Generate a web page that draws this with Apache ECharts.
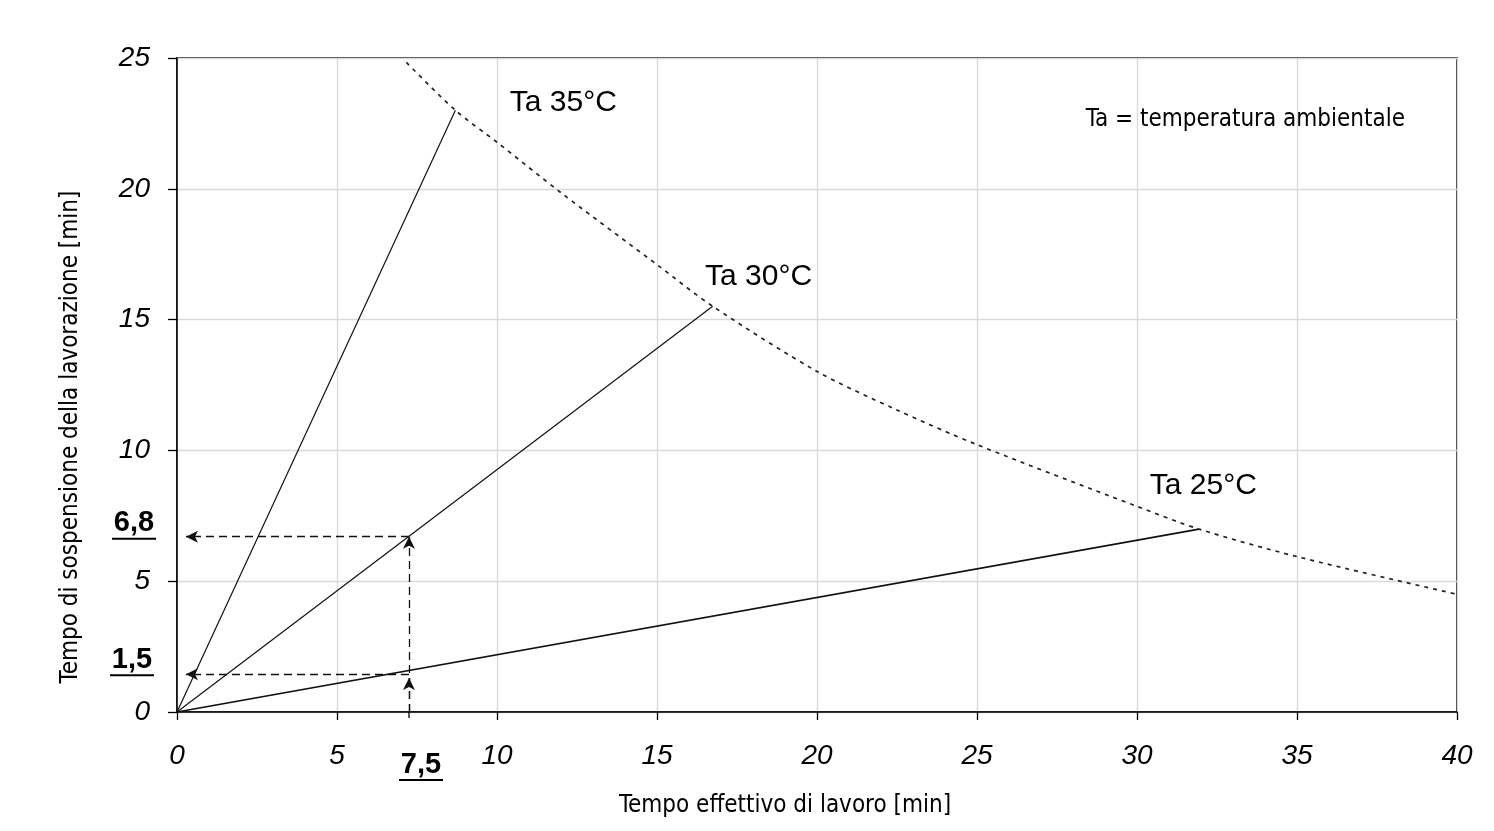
<!DOCTYPE html>
<html>
<head>
<meta charset="utf-8">
<script src="https://cdn.jsdelivr.net/npm/echarts@6/dist/echarts.min.js"></script>
<style>html,body{margin:0;padding:0;background:#fff}#c{width:1494px;height:831px}</style>
</head>
<body>
<div id="c"></div>
<script>
// ---- data ----
const xMin = 0, xMax = 40, xStep = 5;
const yMin = 0, yMax = 25, yStep = 5;
const xTitle = 'Tempo effettivo di lavoro [min]';
const yTitle = 'Tempo di sospensione della lavorazione [min]';
const ta35 = [[0, 0], [8.7, 23.0]];
const ta30 = [[0, 0], [16.74, 15.51]];
const ta25 = [[0, 0], [31.94, 6.99]];
const limitCurve = [[7.17, 24.83], [8.7, 23.0], [10, 21.78], [12, 19.85], [15, 17.1], [16.74, 15.51],
  [20, 13.02], [22.47, 11.56], [25, 10.22], [30, 7.86], [31.94, 6.99], [35, 5.94], [40, 4.5]];
const lineNames = ['Ta 35°C', 'Ta 30°C', 'Ta 25°C'];
const lineLabelPos = [[10.4, 23.3], [16.5, 16.65], [30.4, 8.65]];
const noteText = 'Ta = temperatura ambientale';
const notePos = [28.4, 22.65];
const readX = 7.25;          // position of reading line on x
const readY30 = 6.7;         // reading on Ta 30°C
const readY25 = 1.44;        // reading on Ta 25°C
const arrowTipX = 0.28;      // left arrow tips
const lowArrowTipY = 1.3;    // upward arrow tip on lower reading
const readLabels = ['7,5', '6,8', '1,5'];

const narrowFont = '"DejaVu Sans Condensed", "Liberation Sans", sans-serif';
const chart = echarts.init(document.getElementById('c'));
const solid = {color: '#111', width: 1.2, type: 'solid'};
const dashArrow = {color: '#111', width: 1.3, type: [8, 5]};

const option = {
  backgroundColor: '#fff',
  animation: false,
  grid: {left: 177, right: 37, top: 58, bottom: 119, show: true, borderColor: '#000', borderWidth: 1.5},
  xAxis: {
    type: 'value', min: xMin, max: xMax, interval: xStep,
    name: xTitle, nameLocation: 'middle', nameGap: 82,
    nameTextStyle: {fontFamily: narrowFont, fontSize: 24, color: '#000', padding: [0, 64, 0, 0]},
    axisLine: {lineStyle: {color: '#000', width: 1.5}},
    axisTick: {length: 8, lineStyle: {color: '#000', width: 1.3}},
    axisLabel: {fontFamily: 'Liberation Sans', fontStyle: 'italic', fontSize: 28, color: '#000', margin: 30},
    splitLine: {lineStyle: {color: '#d9d9d9', width: 1.3}}
  },
  yAxis: {
    type: 'value', min: yMin, max: yMax, interval: yStep,
    name: yTitle, nameLocation: 'middle', nameGap: 94, nameRotate: 90,
    nameTextStyle: {fontFamily: narrowFont, fontSize: 24, color: '#000', padding: [0, 104, 0, 0]},
    axisLine: {lineStyle: {color: '#000', width: 1.5}},
    axisTick: {length: 9, lineStyle: {color: '#000', width: 1.3}},
    axisLabel: {fontFamily: 'Liberation Sans', fontStyle: 'italic', fontSize: 28, color: '#000', margin: 27},
    splitLine: {lineStyle: {color: '#d9d9d9', width: 1.3}}
  },
  series: [
    {type: 'line', data: ta35, showSymbol: false, lineStyle: solid, silent: true},
    {type: 'line', data: ta30, showSymbol: false, lineStyle: solid, silent: true},
    {type: 'line', data: ta25, showSymbol: false, lineStyle: {color: '#111', width: 1.6}, silent: true},
    {type: 'line', data: limitCurve, showSymbol: false, smooth: 0.3,
     lineStyle: {color: '#222', width: 1.7, type: [4, 5]}, silent: true},
    {
      type: 'line', data: [], silent: true,
      markLine: {
        silent: true, symbol: ['none', 'arrow'], symbolSize: [9, 12],
        label: {show: false}, lineStyle: dashArrow,
        data: [
          [{coord: [readX, 0]}, {coord: [readX, readY30]}],
          [{coord: [readX, 0]}, {coord: [readX, lowArrowTipY]}],
          [{coord: [readX, readY30]}, {coord: [arrowTipX, readY30]}],
          [{coord: [readX, readY25]}, {coord: [arrowTipX, readY25]}]
        ]
      }
    },
    {
      type: 'scatter', symbolSize: 0, silent: true, itemStyle: {opacity: 1},
      data: lineNames.map((n, i) => ({name: n, value: lineLabelPos[i]})),
      label: {show: true, position: 'right', distance: 0, formatter: '{b}',
        fontFamily: 'Liberation Sans', fontSize: 30, color: '#000', opacity: 1}
    },
    {
      type: 'scatter', symbolSize: 0, silent: true, itemStyle: {opacity: 1},
      data: [{name: noteText, value: notePos}],
      label: {show: true, position: 'right', distance: 0, formatter: '{b}',
        fontFamily: narrowFont, fontSize: 24, color: '#000', opacity: 1}
    }
  ]
};
chart.setOption(option);

// bold underlined reading labels placed via the library's coordinate conversion
function addReadLabels() {
  const pX = chart.convertToPixel({gridIndex: 0}, [readX, 0]);
  const p68 = chart.convertToPixel({gridIndex: 0}, [0, readY30]);
  const p15 = chart.convertToPixel({gridIndex: 0}, [0, readY25]);
  const font = 'bold 29px "Liberation Sans"';
  const elems = [];
  function lbl(text, cx, baseY) {
    elems.push({type: 'text', x: cx, y: baseY, style: {text: text, font: font, fill: '#000',
      align: 'center', verticalAlign: 'bottom'}, silent: true});
    elems.push({type: 'line', shape: {x1: cx - 22, y1: baseY + 1, x2: cx + 22, y2: baseY + 1},
      style: {stroke: '#000', lineWidth: 2}, silent: true});
  }
  lbl(readLabels[0], pX[0] + 12, pX[1] + 67);
  lbl(readLabels[1], p68[0] - 43, p68[1] + 1);
  lbl(readLabels[2], p15[0] - 45, p15[1] - 0);
  // small tick below x axis at reading position
  elems.push({type: 'line', shape: {x1: pX[0], y1: pX[1], x2: pX[0], y2: pX[1] + 6},
    style: {stroke: '#000', lineWidth: 1.3}, silent: true});
  chart.setOption({graphic: elems});
}
addReadLabels();
</script>
</body>
</html>
